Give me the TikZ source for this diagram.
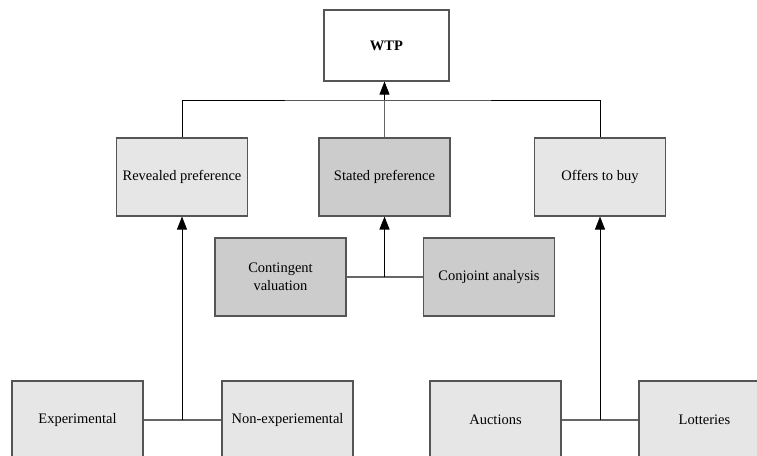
\documentclass[tikz,border=0pt]{standalone}
\usepackage{fontspec}
\setmainfont{Liberation Serif}
\usetikzlibrary{arrows.meta}
\definecolor{boxline}{HTML}{555555}
\definecolor{light}{HTML}{E6E6E6}
\definecolor{dark}{HTML}{CCCCCC}
\definecolor{conn}{HTML}{666666}
\tikzset{
  box/.style={draw=boxline, line width=1.1pt, minimum width=131pt, minimum height=78pt, inner sep=0pt, font=\fontsize{14.5}{18}\selectfont, align=center},
  lbox/.style={box, fill=light},
  dbox/.style={box, fill=dark},
  conline/.style={draw=conn, line width=1.3pt},
  uparrow/.style={draw=black, line width=0.8pt, -{Triangle[width=10pt,length=13pt]}},
}
\begin{document}
\begin{tikzpicture}[x=1pt,y=-1pt]
\useasboundingbox (0,0) rectangle (757,455);
\clip (0,0) rectangle (757,455);
\node[box, fill=white, minimum width=125pt, minimum height=71pt] (wtp) at (386.5,45.5) {\textbf{WTP}};
\node[lbox] (rev) at (182,177) {Revealed preference};
\node[dbox] (sta) at (384.5,177) {Stated preference};
\node[lbox] (off) at (600,177) {Offers to buy};
\node[dbox] (con) at (280.5,277) {Contingent\\valuation};
\node[dbox] (cja) at (489,277) {Conjoint analysis};
\node[lbox] (exp) at (77.5,420) {Experimental};
\node[lbox] (nex) at (287.5,420) {Non-experiemental};
\node[lbox] (auc) at (495.5,420) {Auctions};
\node[lbox] (lot) at (704.5,420) {Lotteries};
\coordinate (top) at (384.5,100);
\coordinate (mid) at (sta.south |- cja.west);
\coordinate (lowL) at (rev.south |- exp.east);
\coordinate (lowR) at (off.south |- auc.east);
% top bar
\draw[line width=0.8pt] (rev.north) |- (top) -| (off.north);
\draw[conline] (sta.north) -- (top);
\draw[uparrow] (top) -- (top |- wtp.south);
% middle
\draw[conline] (con.east) -- (cja.west);
\draw[uparrow, line width=1.4pt] (mid) -- (sta.south);
% bottom
\draw[conline] (exp.east) -- (nex.west);
\draw[conline] (auc.east) -- (lot.west);
\draw[uparrow] (lowL) -- (rev.south);
\draw[uparrow] (lowR) -- (off.south);
\end{tikzpicture}
\end{document}
